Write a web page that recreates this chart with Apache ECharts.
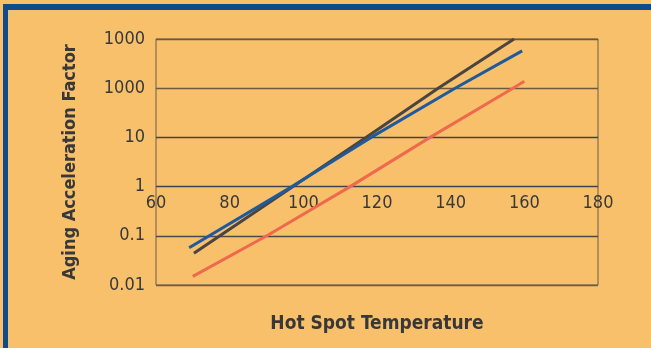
<!DOCTYPE html>
<html>
<head>
<meta charset="utf-8">
<script src="https://cdn.jsdelivr.net/npm/echarts@6/dist/echarts.min.js"></script>
<style>
  html, body { margin: 0; padding: 0; background: #f9c06b; }
  #frame {
    position: absolute; left: 3px; top: 4px; width: 648px; height: 340px;
    border-top: 6px solid #0f4a8a; border-left: 5px solid #0f4a8a;
    border-bottom: 2px solid #e2a85a;
  }
  #chart { position: absolute; left: 0; top: 0; width: 651px; height: 348px; }
</style>
</head>
<body>
<div id="frame"></div>
<div id="chart"></div>
<script>
  // tick labels as printed on the original (second one really is "1000")
  var yTickLabels = ['0.01', '0.1', '1', '10', '1000', '1000']
  var xTicks = [60, 80, 100, 120, 140, 160, 180]

  // [temperature, factor]
  var darkLine = [[70.3, 0.044], [97.2, 1], [117, 10], [136.6, 100], [157.2, 1000]]
  var blueLine = [[69, 0.057], [96.9, 1], [118.4, 10], [141.2, 100], [159.4, 575]]
  var redLine = [[70, 0.015], [90.1, 0.1], [112.7, 1], [134.4, 10], [156.9, 100], [160, 138]]

  var narrow = '"Liberation Sans Narrow", "DejaVu Sans Condensed", Roboto, sans-serif'

  var myChart = echarts.init(document.getElementById('chart'))
  var option = {
    animation: false,
    backgroundColor: 'transparent',
    grid: {
      left: 156, right: 53, top: 39, bottom: 63,
      show: true, borderColor: '#6b5d4a', borderWidth: 1
    },
    xAxis: {
      type: 'value',
      min: xTicks[0], max: xTicks[xTicks.length - 1], interval: 20,
      offset: -102,
      axisLine: { show: false },
      axisTick: { show: false },
      splitLine: { show: false },
      axisLabel: {
        margin: 11, fontSize: 18, fontFamily: narrow, color: '#383838'
      },
      name: 'Hot Spot Temperature',
      nameLocation: 'middle',
      nameGap: 132,
      nameTextStyle: { fontSize: 19, fontWeight: 'bold', fontFamily: narrow, color: '#383838' }
    },
    yAxis: {
      type: 'log',
      logBase: 10,
      min: 0.01, max: 1000,
      axisLine: { show: false },
      axisTick: { show: false },
      splitLine: {
        lineStyle: {
          width: 1.3,
          color: ['#6b5d4a', '#4a4a4a', '#3d4350', '#3d4350', '#6b5a3e', '#6b5a3e']
        }
      },
      axisLabel: {
        margin: 11, fontSize: 18, fontFamily: narrow, color: '#383838',
        formatter: function (v) {
          return yTickLabels[Math.round(Math.log10(v)) + 2]
        }
      },
      name: 'Aging Acceleration Factor',
      nameLocation: 'middle',
      nameRotate: 90,
      nameGap: 77,
      nameTextStyle: { fontSize: 18, fontWeight: 'bold', fontFamily: narrow, color: '#383838' }
    },
    series: [
      { name: 'dark', type: 'line', data: darkLine, showSymbol: false,
        lineStyle: { color: '#4a4540', width: 3 } },
      { name: 'blue', type: 'line', data: blueLine, showSymbol: false,
        lineStyle: { color: '#1f5b9c', width: 3 } },
      { name: 'red', type: 'line', data: redLine, showSymbol: false,
        lineStyle: { color: '#ef6a4c', width: 3 } }
    ]
  }
  myChart.setOption(option)
</script>
</body>
</html>
